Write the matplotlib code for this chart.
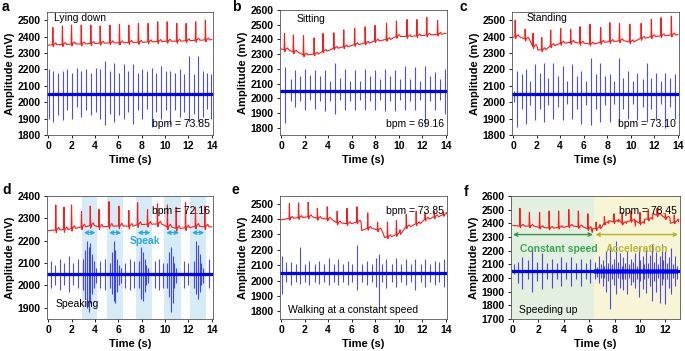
import numpy as np
import matplotlib.pyplot as plt
from matplotlib.patches import FancyArrowPatch

plt.rcParams['font.family'] = ['Liberation Sans', 'DejaVu Sans']
plt.rcParams['font.size'] = 7

# ---------------- data ----------------
blue_base = 2050

# a  lying down
a_beat_t = [0.4, 1.22, 2.0, 2.83, 3.65, 4.45, 5.28, 6.1, 6.9, 7.72, 8.55, 9.37, 10.18, 11.0, 11.8, 12.62, 13.45]
a_beat_base = [2350, 2352, 2355, 2355, 2358, 2360, 2362, 2362, 2365, 2365, 2368, 2370, 2372, 2372, 2375, 2378, 2380]
a_beat_peak = [2455, 2465, 2470, 2470, 2470, 2465, 2470, 2475, 2470, 2480, 2480, 2490, 2490, 2480, 2480, 2490, 2500]
a_wander_t = [0.0, 14.0]
a_wander_v = [2348, 2382]
a_spk_t = [0.05, 0.45, 0.85, 1.25, 1.65, 2.05, 2.45, 2.85, 3.25, 3.65, 4.05, 4.45, 4.85, 5.25, 5.65, 6.05, 6.45,
           6.85, 7.25, 7.65, 8.05, 8.45, 8.85, 9.25, 9.65, 10.05, 10.45, 10.85, 11.25, 11.65, 12.05, 12.45, 12.85,
           13.25, 13.6, 13.9]
a_spk_hi = [2200, 2190, 2180, 2190, 2200, 2180, 2210, 2190, 2200, 2180, 2210, 2200, 2250, 2190, 2240, 2180, 2230,
            2190, 2230, 2180, 2200, 2190, 2210, 2180, 2220, 2190, 2190, 2180, 2200, 2170, 2280, 2170, 2280, 2190,
            2180, 2170]
a_spk_lo = [1900, 1880, 1920, 1890, 1950, 1900, 1970, 1910, 1950, 1920, 1940, 1900, 1860, 1930, 1880, 1920, 1900,
            1940, 1870, 1950, 1900, 1960, 1850, 1940, 1900, 1950, 1870, 1950, 1910, 1940, 1880, 1930, 1880, 1910,
            1960, 1900]

# b  sitting
b_beat_t = [0.28, 1.04, 1.9, 2.8, 3.56, 4.48, 5.32, 6.25, 7.14, 7.98, 8.96, 9.8, 10.7, 11.54, 12.38, 13.3]
b_beat_base = [2330, 2315, 2295, 2300, 2320, 2340, 2350, 2365, 2375, 2390, 2400, 2420, 2420, 2425, 2430, 2435]
b_beat_peak = [2440, 2430, 2425, 2410, 2440, 2445, 2465, 2475, 2485, 2495, 2510, 2525, 2535, 2535, 2550, 2530]
b_wander_t = [0.0, 14.0]
b_wander_v = [2335, 2442]
b_spk_t = [0.35, 0.8, 1.2, 1.6, 2.05, 2.45, 2.9, 3.3, 3.75, 4.15, 4.6, 5.0, 5.45, 5.85, 6.3, 6.7, 7.15, 7.55,
           8.0, 8.4, 8.85, 9.25, 9.7, 10.1, 10.55, 10.95, 11.4, 11.8, 12.25, 12.65, 13.1, 13.5, 13.95]
b_spk_hi = [2210, 2130, 2190, 2150, 2200, 2160, 2190, 2150, 2190, 2120, 2240, 2140, 2200, 2120, 2190, 2120, 2200,
            2150, 2190, 2130, 2200, 2150, 2190, 2130, 2220, 2130, 2210, 2120, 2220, 2150, 2180, 2130, 2200]
b_spk_lo = [1830, 1980, 1940, 1980, 1920, 1990, 1930, 1980, 1910, 1980, 1890, 1990, 1920, 1980, 1920, 1990, 1920,
            1980, 1920, 1990, 1910, 1980, 1910, 1990, 1920, 1980, 1920, 1990, 1820, 1980, 1920, 1990, 1890]

# c  standing
c_beat_t = [0.17, 1.02, 1.69, 2.43, 3.19, 4.04, 4.89, 5.68, 6.53, 7.44, 8.22, 9.04, 9.92, 10.88, 11.75, 12.57, 13.45]
c_beat_base = [2400, 2385, 2340, 2320, 2345, 2360, 2365, 2360, 2355, 2365, 2370, 2375, 2368, 2390, 2400, 2405, 2410]
c_beat_peak = [2500, 2445, 2420, 2395, 2440, 2450, 2445, 2460, 2475, 2455, 2485, 2480, 2475, 2480, 2505, 2515, 2525]
c_wander_t = [0.0, 2.1, 14.0]
c_wander_v = [2395, 2318, 2412]
c_spk_t = [0.05, 0.35, 0.75, 1.05, 1.45, 1.85, 2.25, 2.65, 3.0, 3.4, 3.8, 4.2, 4.6, 5.0, 5.4, 5.75, 6.2, 6.6,
           7.0, 7.4, 7.8, 8.2, 8.6, 9.0, 9.35, 9.75, 10.2, 10.55, 11.0, 11.35, 11.75, 12.15, 12.55, 12.95, 13.35, 13.75]
c_spk_hi = [2070, 2190, 2170, 2200, 2130, 2230, 2180, 2240, 2150, 2240, 2160, 2220, 2130, 2230, 2160, 2190, 2130,
            2270, 2170, 2240, 2160, 2170, 2130, 2270, 2150, 2190, 2130, 2180, 2140, 2240, 2150, 2180, 2130, 2180,
            2150, 2170]
c_spk_lo = [2000, 1850, 1960, 1870, 1980, 1890, 1960, 1880, 1980, 1900, 1970, 1890, 1990, 1900, 1960, 1870, 1980,
            1860, 1960, 1880, 1980, 1880, 1990, 1870, 1960, 1900, 1990, 1890, 1970, 1880, 1960, 1900, 1990, 1840,
            1970, 1900]

# d  speaking
d_beat_t = [0.65, 1.35, 2.0, 2.85, 3.6, 4.35, 5.2, 6.05, 6.9, 7.65, 8.5, 9.35, 10.2, 10.95, 11.75, 12.6, 13.4]
d_beat_base = [2248, 2250, 2255, 2262, 2268, 2262, 2265, 2266, 2265, 2272, 2274, 2275, 2262, 2255, 2258, 2265, 2262]
d_beat_peak = [2360, 2350, 2360, 2330, 2355, 2340, 2375, 2355, 2335, 2370, 2340, 2365, 2360, 2350, 2370, 2350, 2355]
d_wander_t = [0.0, 14.0]
d_wander_v = [2245, 2262]
d_speak_start = [2.9, 5.05, 7.5, 9.95, 12.15]
d_speak_end = [4.2, 6.4, 8.9, 11.35, 13.5]
d_spk_t = [0.2, 0.6, 1.0, 1.35, 1.75, 2.15, 2.55, 3.0, 3.15, 3.3, 3.45, 3.6, 3.75, 3.9, 4.05, 4.45, 4.85,
           5.3, 5.45, 5.6, 5.75, 5.9, 6.05, 6.2, 6.6, 7.0, 7.3, 7.8, 7.95, 8.1, 8.25, 8.4, 8.55, 9.1, 9.5, 9.8,
           10.2, 10.35, 10.5, 10.65, 10.8, 10.95, 11.6, 11.95, 12.5, 12.65, 12.8, 12.95, 13.1, 13.25, 13.75]
d_spk_hi = [2110, 2090, 2120, 2100, 2130, 2100, 2120, 2120, 2160, 2200, 2170, 2190, 2140, 2110, 2080, 2110, 2120,
            2100, 2150, 2200, 2160, 2120, 2090, 2080, 2100, 2120, 2110, 2110, 2170, 2150, 2120, 2090, 2080, 2110,
            2120, 2100, 2100, 2150, 2170, 2130, 2100, 2080, 2110, 2100, 2110, 2200, 2180, 2140, 2100, 2080, 2120]
d_spk_lo = [1990, 2000, 1980, 2000, 1970, 2000, 1990, 1980, 1940, 1900, 1880, 1920, 1960, 1990, 2010, 1990, 1980,
            1990, 1960, 1930, 1920, 1970, 2000, 2010, 1990, 1980, 1990, 1990, 1940, 1930, 1970, 2000, 2010, 1990,
            1980, 1990, 1990, 1950, 1880, 1920, 1990, 2010, 1990, 2000, 1990, 1960, 1940, 1970, 2000, 2010, 1990]

# e  walking
e_beat_t = [0.7, 1.48, 2.3, 3.08, 3.92, 4.76, 5.6, 6.44, 7.36, 8.2, 9.04, 9.8, 10.64, 11.48, 12.24, 13.02, 13.8]
e_beat_base = [2405, 2410, 2415, 2405, 2400, 2375, 2370, 2380, 2340, 2330, 2285, 2300, 2350, 2370, 2400, 2415, 2430]
e_beat_peak = [2500, 2505, 2510, 2470, 2480, 2450, 2470, 2480, 2440, 2380, 2380, 2390, 2430, 2450, 2440, 2450, 2445]
e_wander_t = [0.0, 6.85, 8.65, 8.8, 10.1, 14.0]
e_wander_v = [2395, 2325, 2310, 2280, 2330, 2435]
e_spk_t = [0.1, 0.45, 0.85, 1.25, 1.6, 2.05, 2.4, 2.85, 3.25, 3.6, 4.05, 4.45, 4.85, 5.25, 5.65, 6.05, 6.45, 6.85,
           7.3, 7.7, 8.1, 8.3, 8.55, 8.95, 9.4, 9.8, 10.2, 10.6, 11.0, 11.4, 11.85, 12.25, 12.65, 13.05, 13.45, 13.85]
e_spk_hi = [2160, 2120, 2120, 2110, 2220, 2110, 2130, 2110, 2130, 2110, 2150, 2110, 2140, 2110, 2130, 2110, 2230,
            2110, 2130, 2110, 2150, 2170, 2110, 2140, 2110, 2150, 2110, 2140, 2110, 2140, 2110, 2140, 2110, 2130,
            2120, 2140]
e_spk_lo = [1910, 1990, 1970, 1990, 1980, 1990, 1970, 1990, 1980, 1990, 1970, 1990, 1970, 1990, 1970, 1990, 1940,
            1990, 1970, 1990, 1960, 1830, 1990, 1950, 1990, 1960, 1990, 1970, 1990, 1940, 1990, 1960, 1990, 1970,
            1990, 1960]

# f  speeding up
f_phase_edges = [0.0, 6.4, 13.0]
f_beat_t = [0.55, 1.3, 2.1, 2.85, 3.6, 4.4, 5.15, 5.9, 6.55, 7.2, 7.95, 8.6, 9.3, 10.0, 10.65, 11.35, 12.0, 12.7]
f_beat_base = [2380, 2380, 2370, 2365, 2370, 2380, 2375, 2360, 2360, 2400, 2410, 2400, 2420, 2400, 2430, 2460, 2440, 2410]
f_beat_peak = [2510, 2480, 2480, 2490, 2490, 2500, 2490, 2470, 2410, 2450, 2470, 2480, 2490, 2480, 2500, 2510, 2470, 2460]
f_wander_t = [0.0, 6.1, 6.25, 6.85, 7.55, 8.3, 8.95, 9.65, 10.35, 11.0, 11.75, 12.4, 13.0]
f_wander_v = [2385, 2375, 2335, 2390, 2420, 2430, 2410, 2380, 2430, 2470, 2455, 2400, 2430]
f_spk_t = [0.05, 0.4, 0.75, 1.15, 1.5, 1.9, 2.3, 2.65, 3.05, 3.45, 3.8, 4.2, 4.6, 4.95, 5.35, 5.75, 6.1,
           6.45, 6.62, 6.74, 6.9, 7.07, 7.2, 7.34, 7.52, 7.66, 7.8, 7.97, 8.1, 8.24, 8.41, 8.55, 8.7, 8.86, 9.0,
           9.13, 9.3, 9.45, 9.61, 9.75, 9.9, 10.04, 10.2, 10.35, 10.51, 10.65, 10.8, 10.94, 11.1, 11.26, 11.4,
           11.55, 11.71, 11.85, 12.0, 12.16, 12.3, 12.45, 12.6, 12.76, 12.9]
f_spk_hi = [2100, 2120, 2150, 2130, 2230, 2120, 2180, 2110, 2140, 2110, 2150, 2120, 2150, 2110, 2140, 2110, 2140,
            2120, 2080, 2160, 2100, 2130, 2090, 2200, 2110, 2250, 2100, 2140, 2270, 2120, 2180, 2090, 2150, 2110,
            2200, 2100, 2140, 2120, 2180, 2090, 2230, 2130, 2160, 2100, 2220, 2110, 2170, 2250, 2120, 2190, 2100,
            2160, 2250, 2130, 2200, 2110, 2150, 2220, 2100, 2160, 2090]
f_spk_lo = [2030, 1960, 1920, 1990, 1900, 1980, 1920, 1990, 1930, 1990, 1940, 1990, 1940, 1990, 1940, 1990, 1960,
            1990, 2010, 1960, 2000, 1940, 2000, 1900, 1980, 1770, 1990, 1950, 1880, 2000, 1930, 1990, 1910, 1990,
            1880, 2000, 1950, 1970, 1930, 1990, 1860, 1980, 1920, 1990, 1890, 2000, 1940, 1830, 1980, 1900, 2000,
            1820, 1950, 1990, 1810, 1990, 1930, 1880, 2000, 1940, 1990]
f_noise = 18

RED = '#ff1a1a'
BLUE = '#0000ff'


def red_trace(beat_t, beat_base, beat_peak, wander_t, wander_v):
    pts = []
    for t, b, p in zip(beat_t, beat_base, beat_peak):
        pts += [(t - 0.03, b), (t, p), (t + 0.04, b - 12), (t + 0.08, b),
                (t + 0.25, b + 12), (t + 0.35, b)]
    pts += list(zip(wander_t, wander_v))
    pts.sort()
    return [p[0] for p in pts], [p[1] for p in pts]


def axes_px(l, t, r, b):
    W, H = 685, 351
    return fig.add_axes([l / W, 1 - b / H, (r - l) / W, (b - t) / H])


def style(ax, xlim, ylim, yticks, xticks):
    ax.set_xlim(*xlim)
    ax.set_ylim(*ylim)
    ax.set_yticks(yticks)
    ax.set_xticks(xticks)
    ax.tick_params(direction='out', length=2.5, width=0.6, labelsize=7.5, pad=2)
    for lab in ax.get_xticklabels() + ax.get_yticklabels():
        lab.set_fontweight('bold')
    for s in ax.spines.values():
        s.set_linewidth(0.6)
        s.set_color('#555555')
    ax.set_xlabel('Time (s)', fontweight='bold', fontsize=8, labelpad=3)
    ax.set_ylabel('Amplitude (mV)', fontweight='bold', fontsize=8, labelpad=2)


def draw(ax, bt, bb, bp, wt, wv, st, sh, sl, t0, t1):
    x, y = red_trace(bt, bb, bp, wt, wv)
    ax.plot(x, y, color=RED, lw=0.8, zorder=3)
    ax.vlines(st, sl, sh, color=BLUE, lw=0.8, alpha=0.7, zorder=2)
    ax.plot([t0, t1], [blue_base, blue_base], color=BLUE, lw=2.3, zorder=2)


def arrow(ax, x0, x1, y, color):
    ax.add_patch(FancyArrowPatch((x0, y), (x1, y), arrowstyle='<->', mutation_scale=6,
                                 shrinkA=0, shrinkB=0, color=color, lw=1.0, zorder=4))


def letter(x, y, s):
    fig.text(x / 685, 1 - y / 351, s, fontweight='bold', fontsize=10, va='top', ha='left')


fig = plt.figure(figsize=(6.85, 3.51), dpi=100)

# a
ax = axes_px(47, 12, 213, 135)
draw(ax, a_beat_t, a_beat_base, a_beat_peak, a_wander_t, a_wander_v, a_spk_t, a_spk_hi, a_spk_lo, 0, 14)
style(ax, (-0.1, 14.1), (1800, 2550), range(1800, 2501, 100), range(0, 15, 2))
ax.text(0.04, 0.95, 'Lying down', transform=ax.transAxes, va='center', ha='left', fontsize=7.5)
ax.text(0.98, 0.09, 'bpm = 73.85', transform=ax.transAxes, va='center', ha='right', fontsize=7.5)
letter(2, 0, 'a')

# b
ax = axes_px(280, 10, 447, 135)
draw(ax, b_beat_t, b_beat_base, b_beat_peak, b_wander_t, b_wander_v, b_spk_t, b_spk_hi, b_spk_lo, 0, 14)
style(ax, (-0.1, 14.1), (1750, 2600), range(1800, 2601, 100), range(0, 15, 2))
ax.text(0.1, 0.93, 'Sitting', transform=ax.transAxes, va='center', ha='left', fontsize=7.5)
ax.text(0.98, 0.09, 'bpm = 69.16', transform=ax.transAxes, va='center', ha='right', fontsize=7.5)
letter(232, 0, 'b')

# c
ax = axes_px(512, 12, 679, 135)
draw(ax, c_beat_t, c_beat_base, c_beat_peak, c_wander_t, c_wander_v, c_spk_t, c_spk_hi, c_spk_lo, 0, 14)
style(ax, (-0.1, 14.1), (1800, 2550), range(1800, 2501, 100), range(0, 15, 2))
ax.text(0.09, 0.95, 'Standing', transform=ax.transAxes, va='center', ha='left', fontsize=7.5)
ax.text(0.98, 0.09, 'bpm = 73.10', transform=ax.transAxes, va='center', ha='right', fontsize=7.5)
letter(459, 0, 'c')

# d
ax = axes_px(47, 196, 213, 319)
for s0, s1 in zip(d_speak_start, d_speak_end):
    ax.axvspan(s0, s1, color='#d5ebf5', lw=0, zorder=0)
    arrow(ax, s0 + 0.15, s1 - 0.15, 2236, '#27a9e1')
draw(ax, d_beat_t, d_beat_base, d_beat_peak, d_wander_t, d_wander_v, d_spk_t, d_spk_hi, d_spk_lo, 0, 14)
style(ax, (-0.1, 14.1), (1850, 2400), range(1900, 2401, 100), range(0, 15, 2))
ax.text(8.3, 2199, 'Speak', color='#27a9e1', fontweight='bold', ha='center', va='center', fontsize=7.5)
ax.text(0.05, 0.12, 'Speaking', transform=ax.transAxes, va='center', ha='left', fontsize=7.5)
ax.text(0.98, 0.88, 'bpm = 72.16', transform=ax.transAxes, va='center', ha='right', fontsize=7.5)
letter(2, 183, 'd')

# e
ax = axes_px(280, 196, 447, 319)
draw(ax, e_beat_t, e_beat_base, e_beat_peak, e_wander_t, e_wander_v, e_spk_t, e_spk_hi, e_spk_lo, 0, 14)
style(ax, (-0.1, 14.1), (1750, 2550), range(1800, 2501, 100), range(0, 15, 2))
ax.text(0.05, 0.07, 'Walking at a constant speed', transform=ax.transAxes, va='center', ha='left', fontsize=7.5)
ax.text(0.98, 0.88, 'bpm = 73.85', transform=ax.transAxes, va='center', ha='right', fontsize=7.5)
letter(232, 183, 'e')

# f
ax = axes_px(511, 196, 680, 319)
ax.axvspan(-0.2, f_phase_edges[1], color='#e3efdf', lw=0, zorder=0)
ax.axvspan(f_phase_edges[1], 13.2, color='#f8f5d6', lw=0, zorder=0)
ax.fill_between(f_phase_edges[1:], blue_base - f_noise, blue_base + f_noise, color=BLUE, lw=0, alpha=0.6, zorder=2)
draw(ax, f_beat_t, f_beat_base, f_beat_peak, f_wander_t, f_wander_v, f_spk_t, f_spk_hi, f_spk_lo, 0, 13)
style(ax, (-0.15, 13.15), (1700, 2600), range(1700, 2601, 100), range(0, 13, 2))
arrow(ax, f_phase_edges[0], f_phase_edges[1] - 0.1, 2318, '#2e9a48')
arrow(ax, f_phase_edges[1] + 0.1, f_phase_edges[2], 2318, '#b3b324')
ax.text(3.6, 2215, 'Constant speed', color='#3aa655', fontweight='bold', ha='center', va='center', fontsize=7.5)
ax.text(9.8, 2215, 'Acceleration', color='#b8b830', fontweight='bold', ha='center', va='center', fontsize=7.5)
ax.text(0.05, 0.07, 'Speeding up', transform=ax.transAxes, va='center', ha='left', fontsize=7.5)
ax.text(0.98, 0.88, 'bpm = 78.45', transform=ax.transAxes, va='center', ha='right', fontsize=7.5)
letter(464, 185, 'f')

fig.savefig('out.png', dpi=100)
